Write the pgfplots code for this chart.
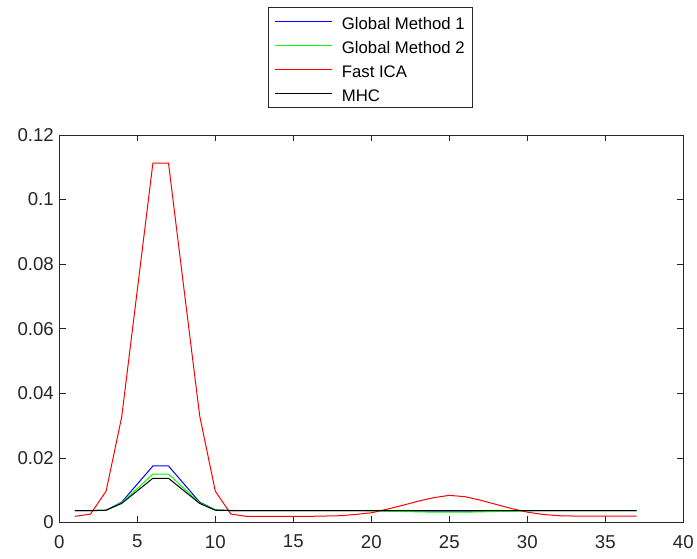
\documentclass[border=0pt]{standalone}
\usepackage{pgfplots}
\pgfplotsset{compat=1.18}
\usepackage{fontspec}
\setmainfont{Liberation Sans}
\definecolor{axgray}{RGB}{38,38,38}
\definecolor{mblue}{RGB}{0,0,255}
\definecolor{mgreen}{RGB}{0,255,0}
\definecolor{mred}{RGB}{255,0,0}
\begin{document}
\begin{tikzpicture}[x=1bp,y=1bp]
\path[use as bounding box] (0,0) rectangle (697,559);
\begin{axis}[
  at={(59.3bp,36.5bp)}, anchor=south west,
  scale only axis, width=624bp, height=387.5bp,
  xmin=0, xmax=40, ymin=0, ymax=0.12,
  xtick={0,5,...,40}, ytick={0,0.02,...,0.12},
  axis line style={axgray, line width=0.6bp},
  tick style={axgray, line width=0.6bp},
  major tick length=6.5bp,
  tick align=inside,
  xtick pos=both, ytick pos=both,
  ticklabel style={font=\fontsize{18.7}{20}\selectfont, text=axgray},
  /pgf/number format/assume math mode=true,
  /pgf/number format/fixed,
  /pgf/number format/precision=2,
  scaled y ticks=false,
  xticklabel style={yshift=-9bp},
  yticklabel style={xshift=-2bp},
]
\addplot[mblue, line width=1bp] coordinates {
(1,0.00365)(2,0.00365)(3,0.0038)(4,0.0063)(5,0.0119)(6,0.0175)(7,0.0175)(8,0.0119)(9,0.0063)(10,0.0039)
(11,0.0037)(12,0.0037)(13,0.0037)(14,0.0037)(15,0.0037)(16,0.0037)(17,0.0037)(18,0.0037)(19,0.0037)(20,0.0037)
(21,0.0036)(22,0.0036)(23,0.0035)(24,0.0035)(25,0.0035)(26,0.0035)(27,0.0035)(28,0.0036)(29,0.0036)(30,0.0037)
(31,0.0037)(32,0.0037)(33,0.0037)(34,0.0037)(35,0.0037)(36,0.0037)(37,0.0037)};
\addplot[mgreen, line width=1bp] coordinates {
(1,0.00365)(2,0.00365)(3,0.0038)(4,0.0061)(5,0.0105)(6,0.0150)(7,0.0150)(8,0.0105)(9,0.0061)(10,0.0039)
(11,0.0037)(12,0.0037)(13,0.0037)(14,0.0037)(15,0.0037)(16,0.0037)(17,0.0037)(18,0.0037)(19,0.0037)(20,0.0036)
(21,0.0035)(22,0.0034)(23,0.0033)(24,0.0032)(25,0.0032)(26,0.0032)(27,0.0033)(28,0.0034)(29,0.0035)(30,0.0036)
(31,0.0037)(32,0.0037)(33,0.0037)(34,0.0037)(35,0.0037)(36,0.0037)(37,0.0037)};
\addplot[mred, line width=1bp] coordinates {
(1,0.0019)(2,0.0026)(3,0.0097)(4,0.0327)(5,0.0720)(6,0.1113)(7,0.1113)(8,0.0720)(9,0.0330)(10,0.0097)
(11,0.0026)(12,0.0019)(13,0.0019)(14,0.0019)(15,0.0019)(16,0.0019)(17,0.0020)(18,0.0021)(19,0.0025)(20,0.0030)
(21,0.0041)(22,0.0053)(23,0.0066)(24,0.0077)(25,0.0084)(26,0.0080)(27,0.0069)(28,0.0056)(29,0.0043)(30,0.0032)
(31,0.0025)(32,0.0021)(33,0.0020)(34,0.0020)(35,0.0020)(36,0.0020)(37,0.0020)};
\addplot[black, line width=1bp] coordinates {
(1,0.0037)(2,0.0037)(3,0.0038)(4,0.0059)(5,0.0098)(6,0.0137)(7,0.0137)(8,0.0098)(9,0.0059)(10,0.0038)
(11,0.0037)(12,0.0037)(13,0.0037)(14,0.0037)(15,0.0037)(16,0.0037)(17,0.0037)(18,0.0037)(19,0.0037)(20,0.0037)
(21,0.0037)(22,0.0037)(23,0.0037)(24,0.0037)(25,0.0037)(26,0.0037)(27,0.0037)(28,0.0037)(29,0.0037)(30,0.0037)
(31,0.0037)(32,0.0037)(33,0.0037)(34,0.0037)(35,0.0037)(36,0.0037)(37,0.0037)};
\end{axis}
% legend
\draw[axgray, line width=0.6bp, fill=white] (268.5,451.7) rectangle (472.5,551.7);
\fill[mblue] (275,536.8) rectangle (332,538.2);
\fill[mgreen] (275,512.8) rectangle (332,514.2);
\fill[mred] (275,488.8) rectangle (332,490.2);
\fill[black] (275,464.8) rectangle (332,466.2);
\begin{scope}[every node/.style={anchor=base west, inner sep=0pt, font=\fontsize{16.8}{18}\selectfont}]
\node at (341.7,529.9) {Global Method 1};
\node at (341.7,505.9) {Global Method 2};
\node at (341.7,481.9) {Fast ICA};
\node at (341.7,457.9) {MHC};
\end{scope}
\end{tikzpicture}
\end{document}
